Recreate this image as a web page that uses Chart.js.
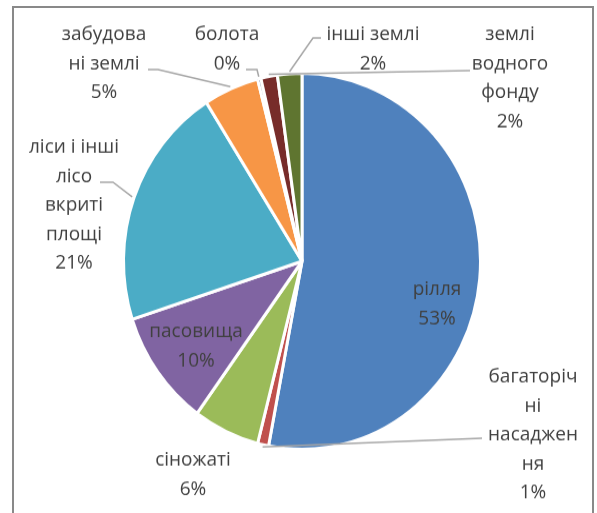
<!DOCTYPE html>
<html>
<head>
<meta charset="utf-8">
<script src="https://cdn.jsdelivr.net/npm/chart.js@4.4.1/dist/chart.umd.min.js"></script>
<style>
  html, body { margin: 0; padding: 0; background: #fff; }
  #frame { position: absolute; left: 12px; top: 6px; width: 578px; height: 520px; border: 2px solid #898989; border-bottom: none; }
  #wrap { position: absolute; left: 0; top: 0; width: 597px; height: 487px; transform: scaleY(1.0534); transform-origin: 0 0; }
</style>
</head>
<body>
<div id="frame"></div>
<div id="wrap"><canvas id="myChart" width="597" height="487"></canvas></div>
<script>
var labels = ['рілля', 'багаторічні насадження', 'сіножаті', 'пасовища', 'ліси і інші лісо вкриті площі', 'забудовані землі', 'болота', 'землі водного фонду', 'інші землі'];
var shares = [53, 1, 6, 10, 21, 5, 0.3, 1.5, 2.2];
// підписи так, як їх переносить Excel
var labelLines = [
  ['рілля'],
  ['багаторіч', 'ні', 'насаджен', 'ня'],
  ['сіножаті'],
  ['пасовища'],
  ['ліси і інші', 'лісо', 'вкриті', 'площі'],
  ['забудова', 'ні землі'],
  ['болота'],
  ['землі', 'водного', 'фонду'],
  ['інші землі']
];
var colors = ['#4F81BD', '#C0504D', '#9BBB59', '#8064A2', '#4BACC6', '#F79646', '#2C4D75', '#772C2A', '#5F7530'];

// де стоять підписи (центр першого рядка) і звідки йде виноска
var labelPos = [
  { at: [437, 275] },
  { at: [533, 358], lead: [482, 416, 482] },
  { at: [193, 437] },
  { at: [196, 315] },
  { at: [74, 140], lead: [100, 173, 113] },
  { at: [104, 33], lead: [148, 66, 158] },
  { at: [227, 33], lead: [246, 66, 257] },
  { at: [510, 33], lead: [470, 67, 470] },
  { at: [373, 33], lead: [321, 36, 313] }
];

var pieLabels = {
  id: 'pieLabels',
  afterDatasetsDraw: function(chart) {
    var c = chart.ctx;
    var arcs = chart.getDatasetMeta(0).data;
    c.save();
    c.strokeStyle = '#a6a6a6';
    c.lineWidth = 1.5;
    arcs.forEach(function(arc, i) {
      var p = labelPos[i];
      if (!p.lead) return;
      var mid = (arc.startAngle + arc.endAngle) / 2;
      var r = arc.outerRadius + 2;
      c.beginPath();
      c.moveTo(p.lead[0], p.lead[1]);
      c.lineTo(p.lead[2], p.lead[1]);
      c.lineTo(arc.x + r * Math.cos(mid), arc.y + r * Math.sin(mid));
      c.stroke();
    });
    c.fillStyle = '#404040';
    c.font = '19px "Open Sans"';
    c.textAlign = 'center';
    c.textBaseline = 'middle';
    arcs.forEach(function(arc, i) {
      var lines = labelLines[i].concat([Math.round(shares[i]) + '%']);
      lines.forEach(function(t, k) {
        c.fillText(t, labelPos[i].at[0], labelPos[i].at[1] + k * 27.5);
      });
    });
    c.restore();
  }
};

var ctx = document.getElementById('myChart');
var LandChart = new Chart(ctx, {
  type: 'pie',
  data: {
    labels: labels,
    datasets: [{ data: shares, backgroundColor: colors, borderColor: '#fff', borderWidth: 3 }]
  },
  options: {
    responsive: false,
    animation: false,
    layout: { padding: { left: 122, right: 115, top: 68, bottom: 59 } },
    plugins: { legend: { display: false }, tooltip: { enabled: false } }
  },
  plugins: [pieLabels]
});
</script>
</body>
</html>
